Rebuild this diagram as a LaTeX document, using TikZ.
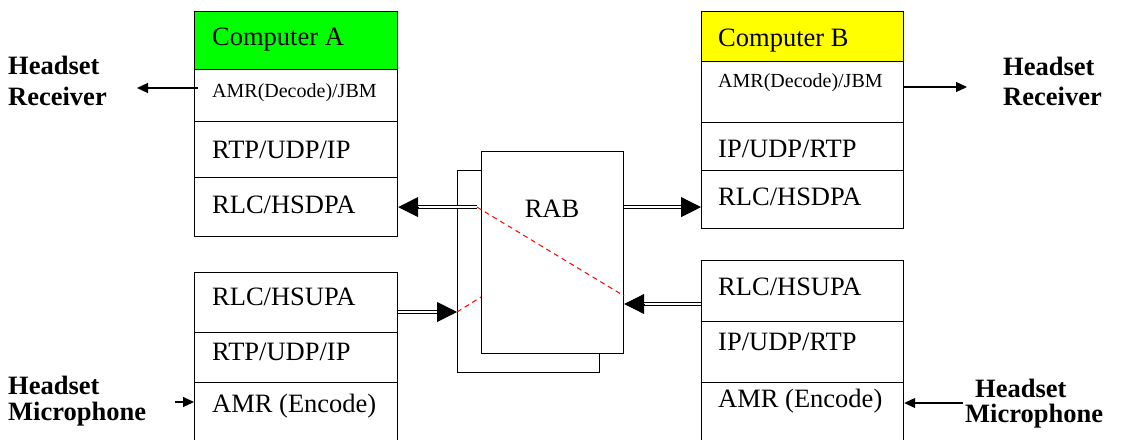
\documentclass[tikz,border=0pt]{standalone}
\usepackage{fontspec}
\setmainfont{Liberation Serif}
\usetikzlibrary{arrows.meta,calc}
\newcommand\fmain{\fontsize{26.5}{30}\selectfont}
\newcommand\fsmall{\fontsize{20}{24}\selectfont}
\definecolor{cgreen}{RGB}{0,255,0}
\definecolor{cyellow}{RGB}{255,255,0}
\tikzset{
  layer/.style={draw, line width=1.2pt, inner sep=0pt, anchor=north west, minimum height=#1},
  lstack/.style={layer=#1, minimum width=203pt},
  rstack/.style={layer=#1, minimum width=202pt},
  txt/.style={inner sep=0pt, anchor=base west, font=\fmain},
  stxt/.style={inner sep=0pt, anchor=base west, font=\fsmall},
  btxt/.style={inner sep=0pt, anchor=base west, font=\fmain\bfseries},
  rabbox/.style={draw, line width=1.2pt, inner sep=0pt, anchor=north west, minimum width=142pt, minimum height=202pt},
  sarr/.style={line width=1.2pt, -{Triangle[length=11pt,width=10pt]}},
  bigline/.style={double, double distance=2pt, line width=1.3pt},
  bigtip/.style={line width=1pt, -{Triangle[length=20pt,width=20pt]}},
  reddash/.style={red, line width=1pt, dash pattern=on 5pt off 4pt},
}
\begin{document}
\begin{tikzpicture}[x=1pt,y=-1pt]
\useasboundingbox (0,0) rectangle (1123,439);
\clip (0,0) rectangle (1123,439);
% Left stack (Computer A)
\node[lstack=58pt, fill=cgreen] (a1) at (194,11) {};
\node[lstack=52pt] (a2) at (194,69) {};
\node[lstack=56pt] (a3) at (194,121) {};
\node[lstack=59pt] (a4) at (194,177) {};
\node[txt] (ta1) at (212,45) {Computer A};
\node[stxt] (ta2) at (212,97) {AMR(Decode)/JBM};
\node[txt] (ta3) at (212,158) {RTP/UDP/IP};
\node[txt] (ta4) at (212,213) {RLC/HSDPA};
% Bottom-left stack
\node[lstack=60pt] (c1) at (194,272) {};
\node[lstack=50pt] (c2) at (194,332) {};
\node[lstack=70pt] (c3) at (194,382) {};
\node[txt] (tc1) at (212,305) {RLC/HSUPA};
\node[txt] (tc2) at (212,360) {RTP/UDP/IP};
\node[txt] (tc3) at (212,412) {AMR (Encode)};
% Right stack (Computer B)
\node[rstack=50pt, fill=cyellow] (b1) at (701,11) {};
\node[rstack=61pt] (b2) at (701,61) {};
\node[rstack=48pt] (b3) at (701,122) {};
\node[rstack=58pt] (b4) at (701,170) {};
\node[txt] (tb1) at (718,46) {Computer B};
\node[stxt] (tb2) at (718,87) {AMR(Decode)/JBM};
\node[txt] (tb3) at (718,157) {IP/UDP/RTP};
\node[txt] (tb4) at (718,205) {RLC/HSDPA};
% Bottom-right stack
\node[rstack=61pt] (d1) at (701,260) {};
\node[rstack=61pt] (d2) at (701,321) {};
\node[rstack=70pt] (d3) at (701,382) {};
\node[txt] (td1) at (718,295) {RLC/HSUPA};
\node[txt] (td2) at (718,350) {IP/UDP/RTP};
\node[txt] (td3) at (718,407) {AMR (Encode)};
% RAB
\node[rabbox] (rabb) at (457,170) {};
\node[rabbox, fill=white] (rab) at (481,151) {};
\node[txt, anchor=base] (trab) at (552,217) {RAB};
% Headset labels
\node[btxt] (hra1) at (8,74) {Headset};
\node[btxt] (hra2) at (8,105) {Receiver};
\node[btxt] (hrb1) at (1003,75) {Headset};
\node[btxt] (hrb2) at (1003,105) {Receiver};
\node[btxt] (hma1) at (8,394) {Headset};
\node[btxt] (hma2) at (8,420) {Microphone};
\node[btxt] (hmb1) at (975,397) {Headset};
\node[btxt] (hmb2) at (965,422) {Microphone};
% small arrows
\coordinate (hraend) at (137,88);
\coordinate (hrbend) at (967,87);
\coordinate (hmastart) at (175,402);
\coordinate (hmbstart) at (963,403);
\draw[sarr] ([xshift=4pt]a2.west |- hraend) -- (hraend);
\draw[sarr] (b2.east |- hrbend) -- (hrbend);
\draw[sarr] (hmastart) -- (c3.west |- hmastart);
\draw[sarr] (hmbstart) -- (d3.east |- hmbstart);
% big arrows
\coordinate (s1) at ([xshift=-4pt]rab.west |- a4.east);
\coordinate (e1) at (a4.east);
\coordinate (s2) at (rab.east |- a4.east);
\coordinate (e2) at (b4.west |- a4.east);
\coordinate (s3) at (c1.east |- 0,312);
\coordinate (e3) at (rabb.west |- 0,312);
\coordinate (s4) at (d1.west |- 0,304);
\coordinate (e4) at (rab.east |- 0,304);
\foreach \i in {1,2,3,4}{
  \draw[bigline] (s\i) -- ($(e\i)!18pt!(s\i)$);
  \draw[bigtip] ($(e\i)!20pt!(s\i)$) -- (e\i);
}
% red dashed lines
\draw[reddash] (s1) -- (rab.east |- 0,296);
\draw[reddash] (e3) -- (rab.west |- 0,297);
\end{tikzpicture}
\end{document}
